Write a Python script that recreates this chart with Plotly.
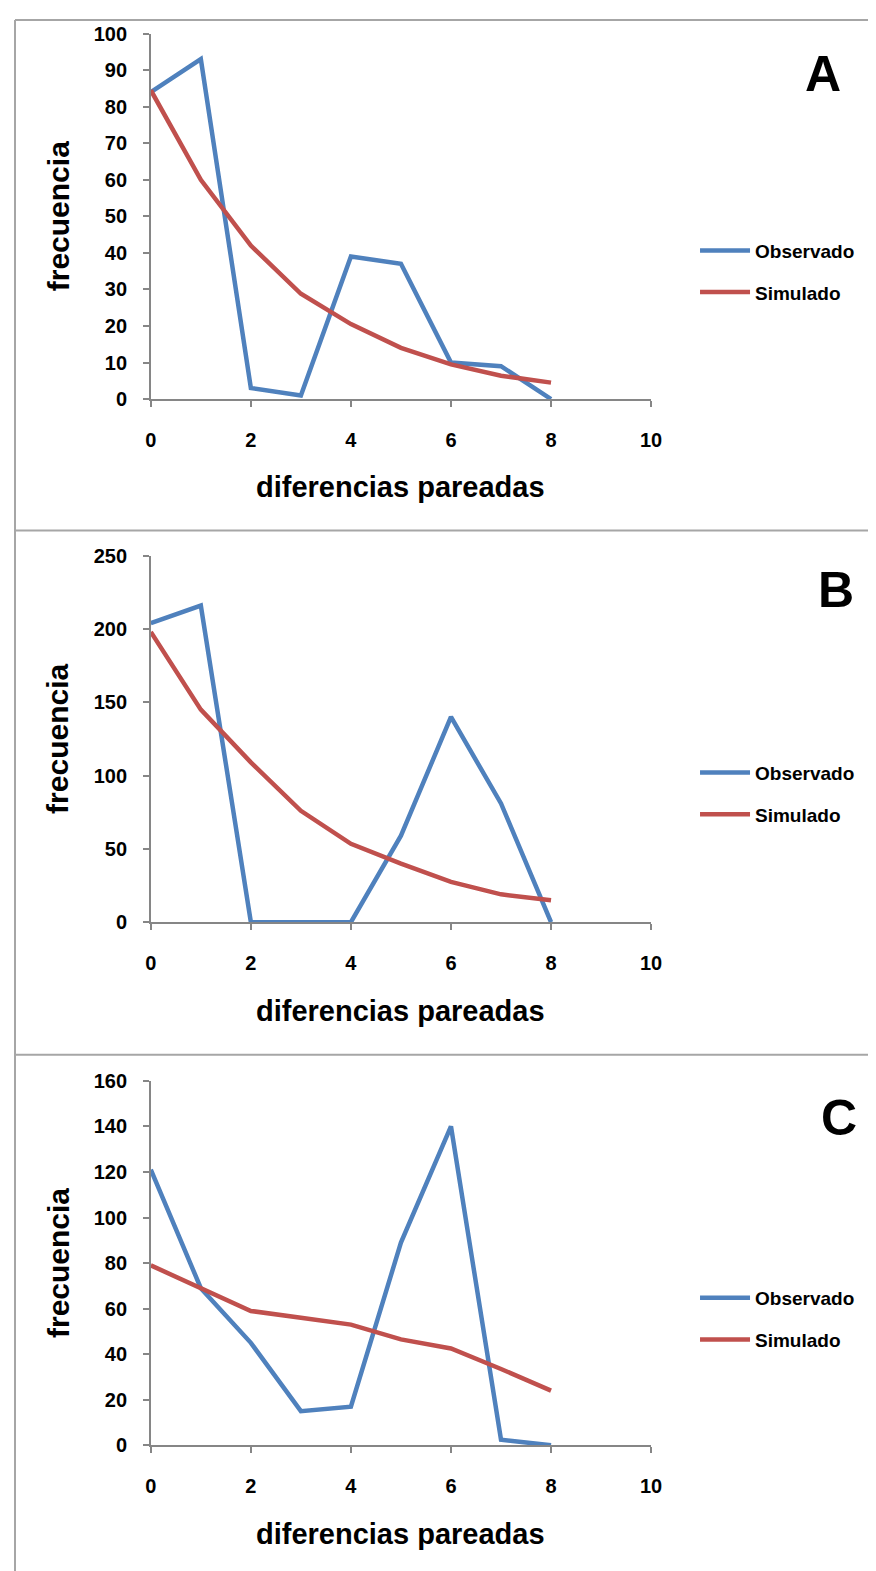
import plotly.graph_objects as go

# calibración medida: la figura aparece escalada ~0.982 y desplazada (12, 19.5) px
ESCALA = 0.982
OX, OY = 12, 19.5
W, H = 876, 1576

# datos
dif = [0, 1, 2, 3, 4, 5, 6, 7, 8]
obs_a = [84, 93, 3, 1, 39, 37, 10, 9, 0]
sim_a = [84.5, 60, 42, 28.8, 20.5, 14, 9.5, 6.4, 4.5]
obs_b = [204, 216, 0, 0, 0, 59, 140, 81, 0]
sim_b = [198, 145, 109, 76, 53.5, 40, 27.5, 19, 15]
obs_c = [121, 69, 45, 15, 17, 89, 140, 2.5, 0]
sim_c = [79, 69, 59, 56, 53, 46.5, 42.5, 33.5, 24]

paneles = ['A', 'B', 'C']
y_max = [100, 250, 160]
y_paso = [10, 50, 20]
x_ticks = [0, 2, 4, 6, 8, 10]

AZUL = '#4F81BD'
ROJO = '#C0504D'
GRIS = '#868686'
BORDE = '#A6A6A6'
FUENTE = 'Liberation Sans, Arial, sans-serif'

# geometría en píxeles de la imagen de referencia para cada panel
plot_top = [34, 554, 1077]
plot_bot = [398, 919, 1440]
x_left, x_right = 149, 650
letra_x = [822, 835, 838]
letra_dy = [40, 34, 37]
separadores = [9, 529, 1051]


def px(x):
    return (x - OX) / ESCALA / W


def py(y):
    return 1 - (y - OY) / ESCALA / H


datos = [(obs_a, sim_a), (obs_b, sim_b), (obs_c, sim_c)]

fig = go.Figure()
layout = dict(
    width=W, height=H,
    margin=dict(l=0, r=0, t=0, b=0),
    paper_bgcolor='white', plot_bgcolor='white',
    font=dict(family=FUENTE, color='black'),
    shapes=[], annotations=[],
)

for i, (obs, sim) in enumerate(datos):
    n = '' if i == 0 else str(i + 1)
    leg = 'legend' + n
    fig.add_trace(go.Scatter(
        x=dif, y=obs, mode='lines', name='Observado',
        line=dict(color=AZUL, width=4.5), cliponaxis=False,
        xaxis='x' + n, yaxis='y' + n, legend=leg, legendgroup='obs' + n,
    ))
    fig.add_trace(go.Scatter(
        x=dif, y=sim, mode='lines', name='Simulado',
        line=dict(color=ROJO, width=4.5), cliponaxis=False,
        xaxis='x' + n, yaxis='y' + n, legend=leg, legendgroup='sim' + n,
    ))

    eje = dict(showline=True, linecolor=GRIS, linewidth=1.5,
               ticks='outside', ticklen=6, tickcolor=GRIS, tickwidth=1.5,
               showgrid=False, zeroline=False,
               tickfont=dict(family=FUENTE, size=20, color='black', weight='bold'))
    layout['xaxis' + n] = dict(
        eje, domain=[px(x_left), px(x_right)], range=[0, 10],
        tickvals=x_ticks, anchor='y' + n, ticklabelstandoff=16,
    )
    layout['yaxis' + n] = dict(
        eje, domain=[py(plot_bot[i]), py(plot_top[i])], range=[0, y_max[i]],
        dtick=y_paso[i], tick0=0, anchor='x' + n, ticklabelstandoff=12,
    )

    mid_leg = plot_top[i] + 237
    layout[leg] = dict(
        x=px(694), y=py(mid_leg), xanchor='left', yanchor='middle',
        bgcolor='rgba(0,0,0,0)', tracegroupgap=14, itemwidth=50,
        font=dict(family=FUENTE, size=19, color='black', weight='bold'),
    )

    # título del eje x
    layout['annotations'].append(dict(
        x=px((x_left + x_right) / 2), y=py(plot_bot[i] + 88), xref='paper', yref='paper',
        text='<b>diferencias pareadas</b>', showarrow=False,
        font=dict(size=29, family=FUENTE), xanchor='center', yanchor='middle',
    ))
    # título del eje y
    layout['annotations'].append(dict(
        x=px(56), y=py((plot_top[i] + plot_bot[i]) / 2), xref='paper', yref='paper',
        text='<b>frecuencia</b>', showarrow=False, textangle=-90,
        font=dict(size=30, family=FUENTE), xanchor='center', yanchor='middle',
    ))
    # letra del panel
    layout['annotations'].append(dict(
        x=px(letra_x[i]), y=py(plot_top[i] + letra_dy[i]), xref='paper', yref='paper',
        text='<b>' + paneles[i] + '</b>', showarrow=False,
        font=dict(size=50, family=FUENTE), xanchor='center', yanchor='middle',
    ))

# marcos de los paneles (el borde superior e izquierdo quedan en el límite de la figura)
borde_sup = max(separadores[0], OY + 1)
borde_izq = max(9, OX + 1)
for s in [borde_sup] + separadores[1:]:
    layout['shapes'].append(dict(type='line', xref='paper', yref='paper',
                                 x0=px(borde_izq), x1=px(900), y0=py(s), y1=py(s),
                                 line=dict(color=BORDE, width=2)))
layout['shapes'].append(dict(type='line', xref='paper', yref='paper',
                             x0=px(borde_izq), x1=px(borde_izq), y0=py(borde_sup), y1=py(1600),
                             line=dict(color=BORDE, width=2)))

fig.update_layout(**layout)
fig.write_html("out.html")
